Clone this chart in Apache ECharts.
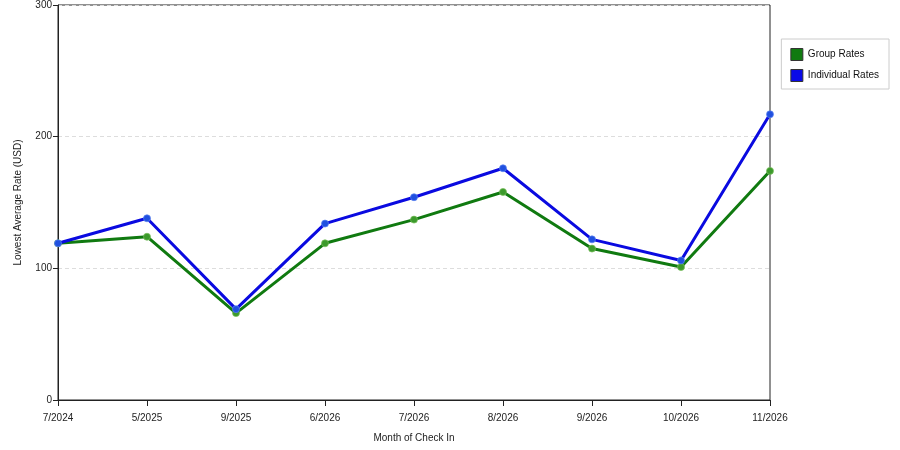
<!DOCTYPE html>
<html>
<head>
<meta charset="utf-8">
<title>Lowest Average Rate</title>
<script src="https://cdn.jsdelivr.net/npm/echarts@6/dist/echarts.min.js"></script>
<style>
  html, body { margin: 0; padding: 0; background: #fff; }
  #main { width: 900px; height: 450px; }
</style>
</head>
<body>
<div id="main"></div>
<script>
// months along the x axis
var months = ['7/2024', '5/2025', '9/2025', '6/2026', '7/2026', '8/2026', '9/2026', '10/2026', '11/2026'];
// rates (USD)
var groupRates = [119, 124, 66, 119, 137, 158, 115, 101, 174];
var individualRates = [119, 138, 69, 134, 154, 176, 122, 106, 217];

var font = 'Liberation Sans';
var chart = echarts.init(document.getElementById('main'));

var option = {
    animation: false,
    textStyle: { fontFamily: font },
    grid: {
        left: 58, right: 130, top: 5, bottom: 50,
        show: true, borderColor: '#222', borderWidth: 1
    },
    legend: {
        orient: 'vertical',
        right: 11, top: 39,
        padding: [9, 10, 7, 9],
        borderColor: '#ccc', borderWidth: 1,
        itemWidth: 12, itemHeight: 12, itemGap: 8,
        icon: 'rect',
        textStyle: { fontSize: 10, color: '#111', fontFamily: font },
        data: [
            { name: 'Group Rates', itemStyle: { color: '#107a10', borderColor: '#333', borderWidth: 1 } },
            { name: 'Individual Rates', itemStyle: { color: '#0a0ae8', borderColor: '#333', borderWidth: 1 } }
        ]
    },
    xAxis: {
        type: 'category',
        data: months,
        boundaryGap: false,
        name: 'Month of Check In',
        nameLocation: 'middle',
        nameGap: 33,
        nameTextStyle: { fontSize: 10, color: '#222' },
        axisLine: { lineStyle: { color: '#222' } },
        axisTick: { alignWithLabel: true, length: 6, lineStyle: { color: '#222' } },
        axisLabel: { fontSize: 10, color: '#222', margin: 13, showMaxLabel: true },
        splitLine: { show: false }
    },
    yAxis: {
        type: 'value',
        min: 0, max: 300, interval: 100,
        name: 'Lowest Average Rate (USD)',
        nameLocation: 'middle',
        nameGap: 35,
        nameTextStyle: { fontSize: 10, color: '#222' },
        axisLine: { show: true, lineStyle: { color: '#222' } },
        axisTick: { show: true, length: 5, lineStyle: { color: '#222' } },
        axisLabel: { fontSize: 10, color: '#222', margin: 6 },
        splitLine: { show: true, lineStyle: { color: '#ddd', type: [4, 3] } }
    },
    series: [
        {
            name: 'Group Rates',
            type: 'line',
            data: groupRates,
            symbol: 'circle', symbolSize: 7,
            lineStyle: { width: 3, color: '#107a10' },
            itemStyle: { color: '#3c9a2c', borderColor: 'rgba(120,190,90,0.7)', borderWidth: 1 },
            z: 2
        },
        {
            name: 'Individual Rates',
            type: 'line',
            data: individualRates,
            symbol: 'circle', symbolSize: 7,
            lineStyle: { width: 3, color: '#0a0ae0' },
            itemStyle: { color: '#2050e0', borderColor: 'rgba(90,130,240,0.7)', borderWidth: 1 },
            z: 3
        }
    ]
};

chart.setOption(option);
</script>
</body>
</html>
